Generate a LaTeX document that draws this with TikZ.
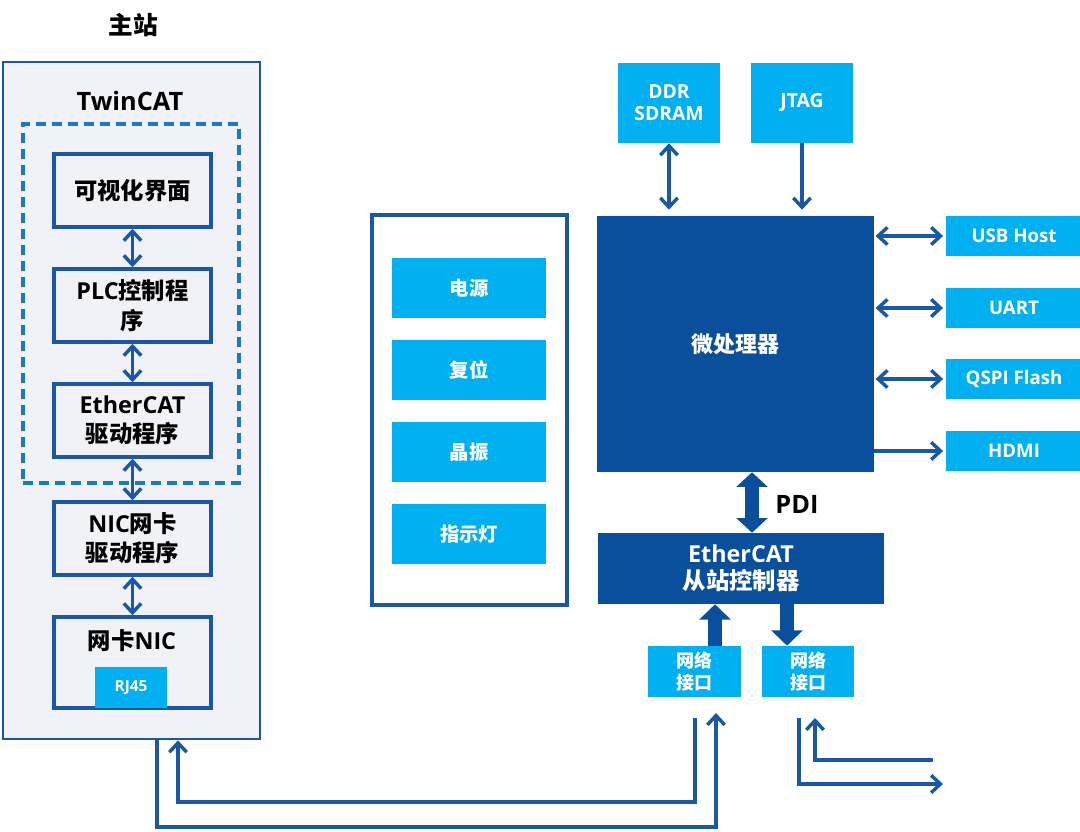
\documentclass[tikz,border=0pt]{standalone}
\usepackage{fontspec}
\setmainfont{Open Sans}
\newfontfamily\cjk{Noto Sans CJK SC Bold}
\newcommand\C[1]{{\cjk #1}}
\usetikzlibrary{arrows.meta}
\definecolor{dk}{HTML}{0A4F9C}
\definecolor{bd}{HTML}{1A58A4}
\definecolor{cy}{HTML}{00B0F0}
\definecolor{lg}{HTML}{F0F2F7}
\definecolor{dsh}{HTML}{1E78C8}
\newcommand\bx[7]{\node[#6, minimum width={(#4-#2)*0.75pt}, minimum height={(#5-#3)*0.75pt}] (#1) at ({(#2+#4)/2},{(#3+#5)/2}) {#7};}
\newcommand\fs[2]{\fontsize{#1}{#2}\selectfont\bfseries}
\begin{document}
\begin{tikzpicture}[x=0.75pt,y=-0.75pt,
  every node/.style={align=center, inner sep=0pt, font=\bfseries},
  mbox/.style={draw=bd, line width=2.6pt, fill=lg, text=black, font=\fs{17.5}{22}},
  cbox/.style={fill=cy, text=white},
  dbox/.style={fill=dk, text=white},
  tip/.tip={Straight Barb[length=7pt,width=13pt]},
  arr/.style={draw=bd, line width=2.6pt, -tip},
  darr/.style={draw=bd, line width=2.6pt, tip-tip},
  fat/.style={draw=dk, line width=11pt, -{Triangle[length=11.5pt,width=23pt]}},
  dfat/.style={draw=dk, line width=10pt, {Triangle[length=11pt,width=23pt]}-{Triangle[length=11pt,width=23pt]}}
]
\useasboundingbox (0,0) rectangle (1080,831);
% master station
\node[font=\fs{18.5}{22}] (ttl) at (133,25) {\C{主站}};
\bx{master}{3}{62}{260}{739}{draw=bd, line width=2pt, fill=lg}{}
\node[font=\fs{19}{22}] (tc) at (130,101) {TwinCAT};
\bx{dash}{23}{124}{239}{483}{draw=dsh, line width=2.5pt, dash pattern=on 7.5pt off 4.5pt}{}
\bx{b1}{54}{154}{211}{227}{mbox}{\C{可视化界面}}
\bx{b2}{54}{269}{211}{342}{mbox}{PLC\C{控制程}\\\C{序}}
\bx{b3}{54}{384}{211}{457}{mbox}{EtherCAT\\\C{驱动程序}}
\bx{b4}{54}{502}{211}{575}{mbox}{NIC\C{网卡}\\\C{驱动程序}}
\bx{b5}{54}{617}{211}{708}{mbox}{}
\node[font=\fs{17.5}{22}] (b5t) at (132,641) {\C{网卡}NIC};
\bx{rj}{95}{667}{167}{708}{cbox, font=\fs{11.5}{14}}{RJ45}
\draw[darr] (b1) -- (b2);
\draw[darr] (b2) -- (b3);
\draw[darr] (b3) -- (b4);
\draw[darr] (b4) -- (b5);
% middle panel
\bx{panel}{372}{215}{567}{605}{draw=bd, line width=2.4pt, fill=white}{}
\bx{p1}{392}{258}{546}{318}{cbox, font=\fs{14.5}{18}}{\C{电源}}
\bx{p2}{392}{340}{546}{400}{cbox, font=\fs{14.5}{18}}{\C{复位}}
\bx{p3}{392}{422}{546}{482}{cbox, font=\fs{14.5}{18}}{\C{晶振}}
\bx{p4}{392}{504}{546}{564}{cbox, font=\fs{14.5}{18}}{\C{指示灯}}
% processor
\bx{cpu}{597}{216}{874}{472}{dbox, font=\fs{16.5}{20}}{\C{微处理器}}
\bx{ddr}{618}{63}{720}{143}{cbox, font=\fs{14.5}{16.5}}{DDR\\SDRAM}
\bx{jtag}{751}{63}{853}{143}{cbox, font=\fs{14.5}{16.5}}{JTAG}
\bx{usb}{946}{216}{1082}{256}{cbox, font=\fs{14}{16}}{USB Host}
\bx{uart}{946}{288}{1082}{328}{cbox, font=\fs{14}{16}}{UART}
\bx{qspi}{946}{359}{1082}{399}{cbox, font=\fs{14}{16}}{QSPI Flash}
\bx{hdmi}{946}{431}{1082}{471}{cbox, font=\fs{14}{16}}{HDMI}
\draw[darr, shorten >=4.5pt] (ddr.south) -- (ddr.south |- cpu.north);
\draw[arr, shorten >=4.5pt] (jtag.south) -- (jtag.south |- cpu.north);
\draw[darr, shorten <=1pt, shorten >=2pt] (cpu.east |- usb) -- (usb.west);
\draw[darr, shorten <=1pt, shorten >=2pt] (cpu.east |- uart) -- (uart.west);
\draw[darr, shorten <=1pt, shorten >=2pt] (cpu.east |- qspi) -- (qspi.west);
\draw[arr, shorten >=2pt] (cpu.east |- hdmi) -- (hdmi.west);
% slave controller
\bx{slave}{598}{533}{884}{604}{dbox, font=\fs{17.5}{20.5}}{EtherCAT\\\C{从站控制器}}
\draw[dfat] (cpu.south -| 752,0) -- (slave.north -| 752,0);
\node[font=\fs{19}{22}] (pdi) at (797,504) {PDI};
\bx{if1}{648}{646}{741}{697}{cbox, font=\fs{13.5}{17}}{\C{网络}\\\C{接口}}
\bx{if2}{762}{646}{854}{697}{cbox, font=\fs{13.5}{17}}{\C{网络}\\\C{接口}}
\draw[fat] (if1.north -| 715,0) -- (slave.south -| 715,0);
\draw[fat] (slave.south -| 787,0) -- (if2.north -| 787,0);
% cabling
\coordinate (e1) at (716,713);
\coordinate (s2) at (695,718);
\coordinate (s3) at (799,718);
\coordinate (e3) at (943,784);
\coordinate (s4) at (933,760);
\coordinate (e4) at (815,718);
\draw[arr, line join=miter] (master.south -| 157,0) |- (600,827) -| (e1);
\draw[arr, line join=miter] (s2) |- (400,802) -| (master.south -| 178,0);
\draw[arr, line join=miter] (s3) |- (e3);
\draw[arr, line join=miter] (s4) -| (e4);
\end{tikzpicture}
\end{document}
